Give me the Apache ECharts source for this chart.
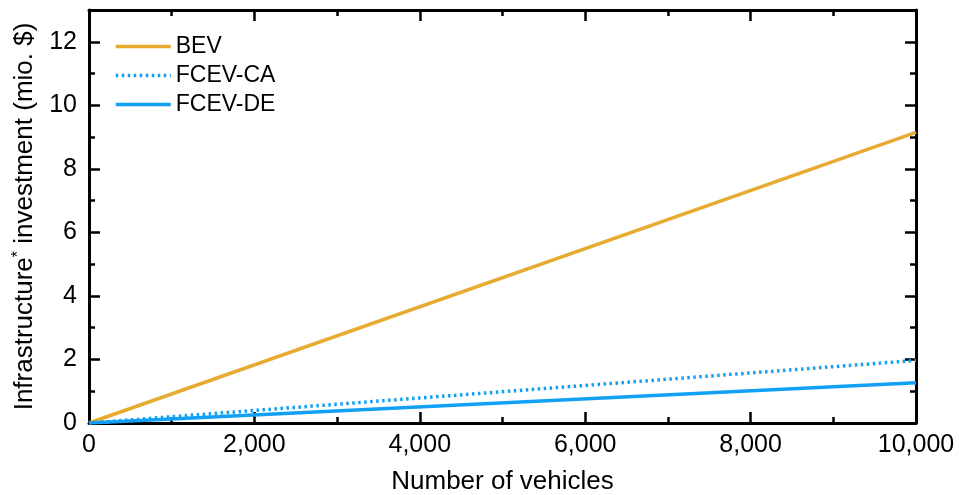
<!DOCTYPE html>
<html>
<head>
<meta charset="utf-8">
<script src="https://cdn.jsdelivr.net/npm/echarts@6/dist/echarts.min.js"></script>
<style>
  html, body { margin: 0; padding: 0; background: #fff; }
  #chart { width: 959px; height: 495px; }
</style>
</head>
<body>
<div id="chart"></div>
<script>
// Fleet size (number of vehicles) and cumulative infrastructure investment in million $
const vehicles = [0, 10000];
const bev = [0, 9.15];
const fcevCA = [0, 1.97];
const fcevDE = [0, 1.27];

const seriesNames = ['BEV', 'FCEV-CA', 'FCEV-DE'];
const orange = '#E6AB30';
const blue = '#12A0F5';
const font = 'Liberation Sans, Arial, sans-serif';

function pairs(xs, ys) { return xs.map((x, i) => [x, ys[i]]); }

const chart = echarts.init(document.getElementById('chart'), null, { renderer: 'canvas' });

const tickBase = {
  show: true, inside: true, length: 11,
  lineStyle: { color: '#000', width: 2.5 }
};
const minorBase = {
  show: true, length: 6, splitNumber: 2,
  lineStyle: { color: '#000', width: 2.5 }
};
const lineBase = { show: true, onZero: false, lineStyle: { color: '#000', width: 3 } };

chart.setOption({
  animation: false,
  backgroundColor: '#fff',
  grid: {
    left: 89, right: 43, top: 10, bottom: 72,
    containLabel: false, outerBoundsMode: 'none'
  },
  legend: {
    left: 114, top: 35, orient: 'vertical', padding: 0,
    itemWidth: 55, itemHeight: 14, itemGap: 6,
    itemStyle: { color: 'transparent', borderWidth: 0 },
    lineStyle: { width: 3.5 },
    textStyle: { fontFamily: font, fontSize: 23, color: '#000' },
    data: seriesNames
  },
  xAxis: [{
    type: 'value', min: 0, max: 10000, interval: 2000,
    name: 'Number of vehicles', nameLocation: 'middle', nameGap: 46,
    nameTextStyle: { fontFamily: font, fontSize: 26, color: '#000' },
    axisLine: lineBase, axisTick: tickBase, minorTick: minorBase,
    splitLine: { show: false },
    axisLabel: {
      fontFamily: font, fontSize: 25, color: '#000', margin: 10,
      formatter: v => v.toLocaleString('en-US')
    }
  }, {
    type: 'value', min: 0, max: 10000, interval: 2000, position: 'top',
    axisLine: lineBase, axisTick: tickBase, minorTick: minorBase,
    splitLine: { show: false }, axisLabel: { show: false }
  }],
  yAxis: [{
    type: 'value', min: 0, max: 13, interval: 2,
    name: 'Infrastructure{sup|*} investment (mio. $)',
    nameLocation: 'middle', nameGap: 50,
    nameTextStyle: {
      fontFamily: font, fontSize: 26, color: '#000',
      rich: {
        sup: { fontFamily: font, fontSize: 16, color: '#000', verticalAlign: 'top', padding: [0, 0, 12, 0] }
      }
    },
    axisLine: lineBase, axisTick: tickBase, minorTick: minorBase,
    splitLine: { show: false },
    axisLabel: { fontFamily: font, fontSize: 25, color: '#000', margin: 12, showMaxLabel: false }
  }, {
    type: 'value', min: 0, max: 13, interval: 2, position: 'right',
    axisLine: lineBase, axisTick: tickBase, minorTick: minorBase,
    splitLine: { show: false }, axisLabel: { show: false }
  }],
  series: [{
    name: 'BEV', type: 'line', symbol: 'none',
    data: pairs(vehicles, bev),
    lineStyle: { color: orange, width: 3.5 }, itemStyle: { color: orange }
  }, {
    name: 'FCEV-CA', type: 'line', symbol: 'none',
    data: pairs(vehicles, fcevCA),
    lineStyle: { color: blue, width: 3.5, type: [2.5, 3.5] }, itemStyle: { color: blue }
  }, {
    name: 'FCEV-DE', type: 'line', symbol: 'none',
    data: pairs(vehicles, fcevDE),
    lineStyle: { color: blue, width: 3.5 }, itemStyle: { color: blue }
  }]
});
</script>
</body>
</html>
